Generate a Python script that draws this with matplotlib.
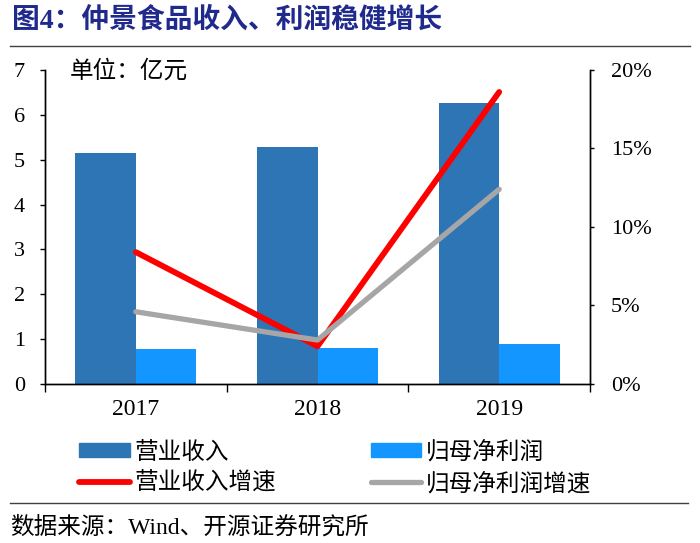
import matplotlib
matplotlib.use('Agg')
import matplotlib.pyplot as plt
from matplotlib.lines import Line2D
from matplotlib.patches import Patch
import numpy as np

plt.rcParams['font.family'] = ['Liberation Serif', 'Noto Sans CJK SC', 'DejaVu Sans']

# data
years = ['2017', '2018', '2019']
revenue = [5.15, 5.28, 6.27]        # 营业收入, 亿元
net_profit = [0.78, 0.80, 0.90]     # 归母净利润, 亿元
revenue_growth = [8.4, 2.4, 18.6]   # 营业收入增速, %
profit_growth = [4.6, 2.8, 12.4]    # 归母净利润增速, %

c_rev = '#2E75B6'
c_prof = '#1396FF'
c_rev_g = '#FF0000'
c_prof_g = '#A6A6A6'
navy = '#1F2A8C'

fig = plt.figure(figsize=(7, 5.43), dpi=100)
ax = fig.add_axes([45/700, 1 - 384/543, (590 - 45)/700, (384 - 70)/543])
ax2 = ax.twinx()

x = np.arange(len(years))
w = 1/3
ax.bar(x - w/2, revenue, width=w, color=c_rev, zorder=2)
ax.bar(x + w/2, net_profit, width=w, color=c_prof, zorder=2)

ax2.plot(x, revenue_growth, color=c_rev_g, lw=4.2, solid_capstyle='round')
ax2.plot(x, profit_growth, color=c_prof_g, lw=3.8, solid_capstyle='round')

ax.set_xlim(-0.5, 2.5)
ax.set_ylim(0, 7)
ax2.set_ylim(0, 20)
ax.set_yticks(range(0, 8))
ax2.set_yticks(range(0, 21, 5))
ax2.set_yticklabels([f'{v}%' for v in range(0, 21, 5)])

ax.set_xticks([-0.5, 0.5, 1.5, 2.5])
ax.set_xticklabels([])
ax.set_xticks(x, minor=True)
ax.set_xticklabels(years, minor=True)
ax.tick_params(axis='x', which='major', direction='out', length=6, width=1)
ax.tick_params(axis='x', which='minor', length=0, pad=11, labelsize=17)
ax.tick_params(axis='y', direction='out', length=3.5, width=1, pad=11, labelsize=16)
ax2.tick_params(axis='y', direction='out', length=3, width=1, pad=12, labelsize=16)

for a in (ax, ax2):
    a.spines['top'].set_visible(False)
    for s in ('left', 'right', 'bottom'):
        a.spines[s].set_linewidth(1)
        a.spines[s].set_color('black')

ax.text((70 - 45)/545, 0.995, '单位：亿元', transform=ax.transAxes, fontsize=17,
        ha='left', va='center')

# title and rules
fig.text(12/700, 1 - 20/543, '图4：仲景食品收入、利润稳健增长', fontsize=20,
         fontweight='bold', color=navy, ha='left', va='center')
fig.add_artist(Line2D([10/700, 690/700], [1 - 46/543, 1 - 46/543], color='#404040', lw=1))
fig.add_artist(Line2D([10/700, 688/700], [1 - 503/543, 1 - 503/543], color='#404040', lw=1))

handles = [Patch(color=c_rev), Patch(color=c_prof),
           Line2D([], [], color=c_rev_g, lw=4.2, solid_capstyle='round'),
           Line2D([], [], color=c_prof_g, lw=3.8, solid_capstyle='round')]
labels = ['营业收入', '归母净利润', '营业收入增速', '归母净利润增速']
# order for ncol=2: column-major
order = [0, 2, 1, 3]
fig.legend([handles[i] for i in order], [labels[i] for i in order], ncol=2,
           loc='upper left', bbox_to_anchor=(79/700, 1 - 441/543), frameon=False,
           fontsize=17, handlelength=2.15, handleheight=0.5, handletextpad=0.2,
           columnspacing=4.0, labelspacing=0.38, borderpad=0, borderaxespad=0)

fig.text(10/700, 1 - 527/543, '数据来源：Wind、开源证券研究所', fontsize=17,
         ha='left', va='center')

fig.savefig('out.png', dpi=100)
